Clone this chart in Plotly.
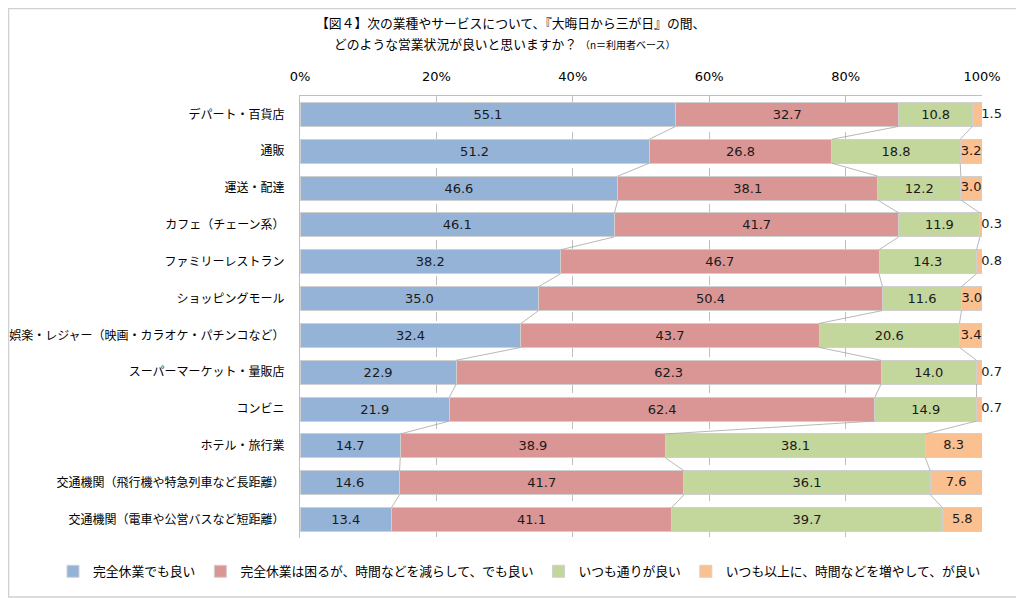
import plotly.graph_objects as go

categories = [
    "デパート・百貨店", "通販", "運送・配達", "カフェ（チェーン系）",
    "ファミリーレストラン", "ショッピングモール",
    "娯楽・レジャー（映画・カラオケ・パチンコなど）",
    "スーパーマーケット・量販店", "コンビニ", "ホテル・旅行業",
    "交通機関（飛行機や特急列車など長距離）",
    "交通機関（電車や公営バスなど短距離）",
]
series_names = [
    "完全休業でも良い",
    "完全休業は困るが、時間などを減らして、でも良い",
    "いつも通りが良い",
    "いつも以上に、時間などを増やして、が良い",
]
s1 = [55.1, 51.2, 46.6, 46.1, 38.2, 35.0, 32.4, 22.9, 21.9, 14.7, 14.6, 13.4]
s2 = [32.7, 26.8, 38.1, 41.7, 46.7, 50.4, 43.7, 62.3, 62.4, 38.9, 41.7, 41.1]
s3 = [10.8, 18.8, 12.2, 11.9, 14.3, 11.6, 20.6, 14.0, 14.9, 38.1, 36.1, 39.7]
s4 = [1.5, 3.2, 3.0, 0.3, 0.8, 3.0, 3.4, 0.7, 0.7, 8.3, 7.6, 5.8]
x_ticks = [0, 20, 40, 60, 80, 100]
x_ticklabels = ["0%", "20%", "40%", "60%", "80%", "100%"]
title_line1 = "【図４】次の業種やサービスについて、『大晦日から三が日』の間、"
title_line2 = "どのような営業状況が良いと思いますか？"
title_note = "（n＝利用者ベース）"

colors = ["#95B3D7", "#DA9694", "#C3D69B", "#FAC090"]
JP = "Noto Sans CJK JP"
NUM = "DejaVu Sans, Noto Sans CJK JP"
BAR_W = 0.65
# page body has an 8px margin: figure coordinates = screen coordinates - 8
W, H = 1016, 590
ML, MR, MT, MB = 292, 42, 88, 59.5
PW, PH = W - ML - MR, H - MT - MB

series = [s1, s2, s3, s4]
ypos = list(range(len(categories)))

fig = go.Figure()

# series lines (Excel-style connectors between stacked boundaries)
cum = [0.0] * len(categories)
bounds = []
for s in series[:-1]:
    cum = [c + v for c, v in zip(cum, s)]
    bounds.append(list(cum))
for b in bounds:
    xs, ys = [], []
    for i in range(len(categories) - 1):
        xs += [b[i], b[i + 1], None]
        ys += [i + BAR_W / 2, i + 1 - BAR_W / 2, None]
    fig.add_trace(go.Scatter(x=xs, y=ys, mode="lines",
                             line=dict(color="#A6A6A6", width=0.8),
                             showlegend=False, hoverinfo="skip"))

for k, (name, s) in enumerate(zip(series_names, series)):
    fig.add_trace(go.Bar(
        name=name, x=s, y=ypos, orientation="h", width=BAR_W,
        marker=dict(color=colors[k], line=dict(color="#D0D0D0", width=1)),
        text=[f"{v:.1f}" for v in s] if k < 3 else None,
        textposition="inside" if k < 3 else "none",
        insidetextanchor="middle", textangle=0,
        textfont=dict(family=NUM, size=13, color="#1a1a1a"),
    ))

# labels for the last (thin) series: inside when wide enough, otherwise right of the bar
start4 = bounds[-1]
lx_in, ly_in, lt_in, lx_out, ly_out, lt_out = [], [], [], [], [], []
for i, v in enumerate(s4):
    if v >= 2:
        lx_in.append(start4[i] + v / 2); ly_in.append(i); lt_in.append(f"{v:.1f}")
    else:
        lx_out.append(min(start4[i] + v, 99.9)); ly_out.append(i); lt_out.append(f"{v:.1f}")
fig.add_trace(go.Scatter(x=lx_in, y=ly_in, text=lt_in, mode="text",
                         textposition="middle center", cliponaxis=False,
                         textfont=dict(family=NUM, size=13, color="#1a1a1a"),
                         showlegend=False, hoverinfo="skip"))
fig.add_trace(go.Scatter(x=lx_out, y=ly_out, text=lt_out, mode="text",
                         textposition="middle right", cliponaxis=False,
                         textfont=dict(family=NUM, size=13, color="#1a1a1a"),
                         showlegend=False, hoverinfo="skip"))

fig.update_layout(
    barmode="stack",
    width=W, height=H,
    paper_bgcolor="white", plot_bgcolor="white",
    margin=dict(l=ML, r=MR, t=MT, b=MB, autoexpand=False),
    uniformtext=dict(minsize=13, mode="show"),
    legend=dict(orientation="h", xref="paper", yref="paper",
                x=(45 - ML) / PW, xanchor="left",
                y=(H - MB - 564) / PH, yanchor="middle",
                font=dict(family=JP, size=12.8, color="#000000"),
                traceorder="normal", itemwidth=30, tracegroupgap=0),
    xaxis=dict(range=[0, 100], side="top", tickvals=x_ticks, ticktext=x_ticklabels,
               showgrid=True, gridcolor="#BFBFBF", griddash="dash", gridwidth=1,
               showline=True, linecolor="#BFBFBF", linewidth=1, mirror=False,
               zeroline=False, ticks="", ticklabelstandoff=9,
               tickfont=dict(family=NUM, size=13, color="#000000")),
    yaxis=dict(range=[11.5, -0.5], tickvals=ypos, ticktext=categories,
               showgrid=False, showline=True, linecolor="#BFBFBF", linewidth=1,
               zeroline=False, ticks="", ticklabelstandoff=12,
               tickfont=dict(family=JP, size=12, color="#000000")),
    annotations=[
        dict(text=title_line1, xref="paper", yref="paper",
             x=(502 - ML) / PW, y=(H - MB - 14) / PH, xanchor="center", yanchor="middle",
             showarrow=False, font=dict(family=JP, size=12.8, color="#000000")),
        dict(text=title_line2 + " <span style='font-size:10px'>" + title_note + "</span>",
             xref="paper", yref="paper",
             x=(497 - ML) / PW, y=(H - MB - 35) / PH, xanchor="center", yanchor="middle",
             showarrow=False, font=dict(family=JP, size=12.8, color="#000000")),
    ],
    shapes=[dict(type="rect", xref="paper", yref="paper",
                 x0=-(ML - 0.5) / PW, x1=(W - ML - 0.5) / PW,
                 y0=-(MB - 0.5) / PH, y1=(H - MB - 0.5) / PH,
                 line=dict(color="#D0D0D0", width=1.5), fillcolor="rgba(0,0,0,0)",
                 layer="below")],
)

fig.write_html("out.html")
